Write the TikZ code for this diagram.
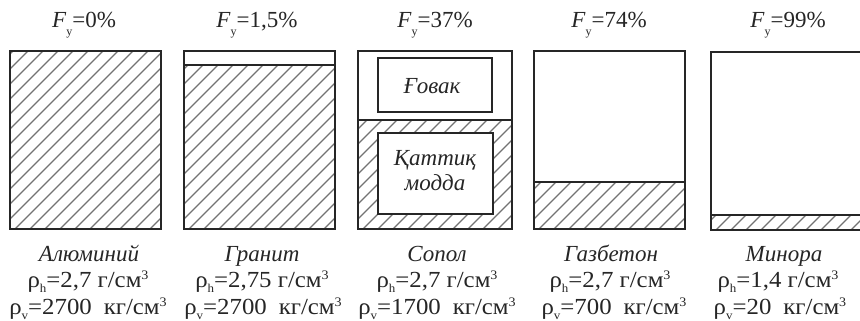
\documentclass[tikz,border=0pt]{standalone}
\usepackage{fontspec}
\setmainfont{Liberation Serif}
\newcommand\mysub[1]{\raisebox{-5pt}{\fontsize{12}{12}\selectfont #1}}
\newcommand\mysup[1]{\raisebox{8pt}{\fontsize{13}{13}\selectfont #1}}
\newcommand\fsub[1]{\textit{F}\raisebox{-7.5pt}{\fontsize{12}{12}\selectfont #1}}
\newcommand\dens[1]{\scalebox{1.08}[1]{#1}}
\newcommand\myhatch[4]{\begin{scope}\clip (#1,#2) rectangle (#3,#4);
  \foreach \k in {0,...,42}{\draw[hatchline] ({#1-250+\k*15},#4) -- ++(260,-260);}
  \end{scope}}
\begin{document}
\begin{tikzpicture}[x=1pt,y=-1pt,
  boxline/.style={line width=1.8pt, draw=black!85},
  hatchline/.style={line width=1.1pt, draw=black!55},
  lbl/.style={anchor=base, inner sep=0pt, font=\fontsize{23}{27}\selectfont, text=black!85},
  itlbl/.style={lbl, font=\fontsize{23}{27}\selectfont\itshape}]
\useasboundingbox (0,0) rectangle (860,321);
\fill[white] (0,0) rectangle (860,321);

% box 1
\myhatch{10}{51}{161}{229}
\draw[boxline] (10,51) rectangle (161,229);
% box 2
\myhatch{184}{65}{335}{229}
\draw[boxline] (184,65) -- (335,65);
\draw[boxline] (184,51) rectangle (335,229);
% box 3
\myhatch{358}{120}{512}{229}
\fill[white] (378,133) rectangle (493,214);
\draw[boxline] (378,133) rectangle (493,214);
\draw[boxline] (378,58) rectangle (492,112);
\draw[boxline] (358,120) -- (512,120);
\draw[boxline] (358,51) rectangle (512,229);
% box 4
\myhatch{534}{182}{685}{229}
\draw[boxline] (534,182) -- (685,182);
\draw[boxline] (534,51) rectangle (685,229);
% box 5
\myhatch{711}{215}{862}{230}
\draw[boxline] (711,215) -- (862,215);
\draw[boxline] (711,52) rectangle (862,230);

% inner texts
\node[itlbl] (govak) at (432,93) {Ғовак};
\node[itlbl] (qattiq) at (435,165) {Қаттиқ};
\node[itlbl] (modda) at (435,190) {модда};

% top labels
\node[lbl] (f1) at (84,28) {\fsub{y}=0\%};
\node[lbl] (f2) at (257,28) {\fsub{y}=1,5\%};
\node[lbl] (f3) at (435,28) {\fsub{y}=37\%};
\node[lbl] (f4) at (609,28) {\fsub{y}=74\%};
\node[lbl] (f5) at (788,28) {\fsub{y}=99\%};

% bottom labels
\node[itlbl] (n1) at (89,261) {Алюминий};
\node[itlbl] (n2) at (262,261) {Гранит};
\node[itlbl] (n3) at (437,261) {Сопол};
\node[itlbl] (n4) at (611,261) {Газбетон};
\node[itlbl] (n5) at (784,261) {Минора};

\node[lbl] (h1) at (88,287) {\dens{ρ\mysub{h}=2,7 г/см\mysup{3}}};
\node[lbl] (h2) at (262,287) {\dens{ρ\mysub{h}=2,75 г/см\mysup{3}}};
\node[lbl] (h3) at (437,287) {\dens{ρ\mysub{h}=2,7 г/см\mysup{3}}};
\node[lbl] (h4) at (610,287) {\dens{ρ\mysub{h}=2,7 г/см\mysup{3}}};
\node[lbl] (h5) at (778,287) {\dens{ρ\mysub{h}=1,4 г/см\mysup{3}}};

\node[lbl] (v1) at (88,314) {\dens{ρ\mysub{v}=2700\hspace{11pt}кг/см\mysup{3}}};
\node[lbl] (v2) at (263,314) {\dens{ρ\mysub{v}=2700\hspace{11pt}кг/см\mysup{3}}};
\node[lbl] (v3) at (437,314) {\dens{ρ\mysub{v}=1700\hspace{11pt}кг/см\mysup{3}}};
\node[lbl] (v4) at (614,314) {\dens{ρ\mysub{v}=700\hspace{11pt}кг/см\mysup{3}}};
\node[lbl] (v5) at (780,314) {\dens{ρ\mysub{v}=20\hspace{11pt}кг/см\mysup{3}}};
\end{tikzpicture}
\end{document}
